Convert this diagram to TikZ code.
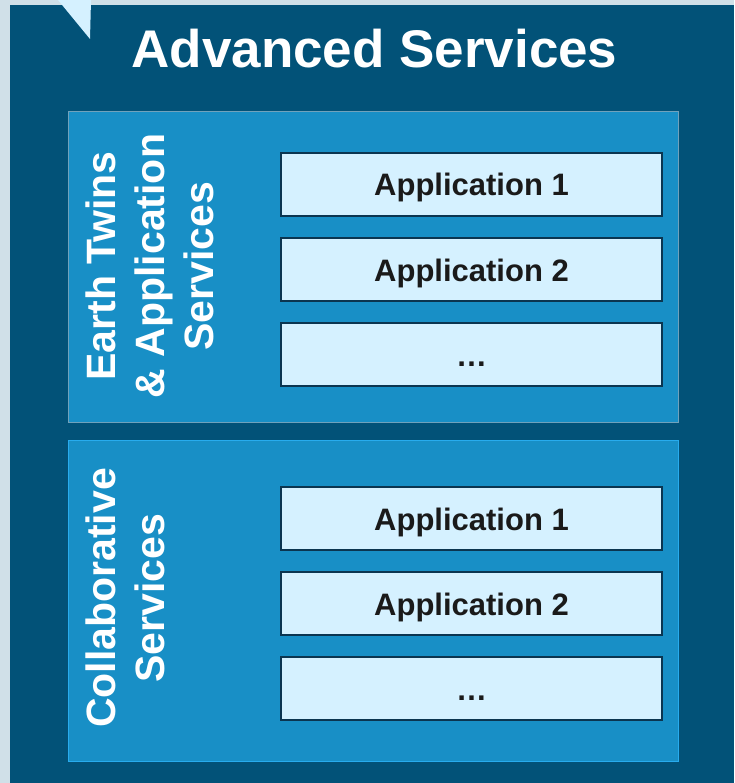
\documentclass[tikz,border=0pt]{standalone}
\usepackage{fontspec}
\setmainfont{Liberation Sans}
\usetikzlibrary{positioning}
\definecolor{asBack}{RGB}{208,224,232}
\definecolor{asPanel}{RGB}{2,82,120}
\definecolor{asGroup}{RGB}{24,143,198}
\definecolor{asGrayEdge}{RGB}{112,162,188}
\definecolor{asBlueEdge}{RGB}{40,172,238}
\definecolor{asApp}{RGB}{213,241,255}
\definecolor{asAppEdge}{RGB}{11,53,80}
\definecolor{asText}{RGB}{26,26,26}

\begin{document}
\begin{tikzpicture}[x=1pt, y=-1pt,
  group/.style={fill=asGroup, line width=1.5pt, minimum width=610pt, inner sep=0pt},
  appbox/.style={draw=asAppEdge, fill=asApp, line width=2pt, minimum width=381pt, minimum height=63pt,
    text height=23pt, text depth=0pt, text=asText, font=\bfseries\fontsize{31}{31}\selectfont},
  sidelabel/.style={rotate=90, anchor=north, align=center, inner sep=0pt, text=white,
    font=\bfseries\fontsize{41}{49}\selectfont}]
  % Frame
  \fill[asBack] (0,0) rectangle (734,783);
  \fill[asPanel] (10,5) rectangle (734,783);
  \fill[asApp] (58,0) -- (91,0) -- (90,39) -- cycle;
  \useasboundingbox (0,0) rectangle (734,783);

  % Title
  \node[anchor=base, text=white, inner sep=0pt, font=\bfseries\fontsize{53}{53}\selectfont] (title) at (374.5,68) {Advanced Services};

  % Groups
  \node[group, draw=asGrayEdge, minimum height=311pt] (twins) at (373.5,267) {};
  \node[group, draw=asBlueEdge, minimum height=321pt] (collab) at (373.5,601) {};

  \node[sidelabel] (twinsLabel) at (86,266) {Earth Twins\\\& Application\\Services};
  \node[sidelabel] (collabLabel) at (86,598) {Collaborative\\Services};

  % Applications
  \foreach \grp/\yy in {twins/184.5, collab/518.5} {
    \node[appbox] (\grp A) at (471.5,\yy) {Application 1};
    \node[appbox, below=20pt of \grp A] (\grp B) {Application 2};
    \node[appbox, below=20pt of \grp B] (\grp C) {…};
  }
\end{tikzpicture}
\end{document}
